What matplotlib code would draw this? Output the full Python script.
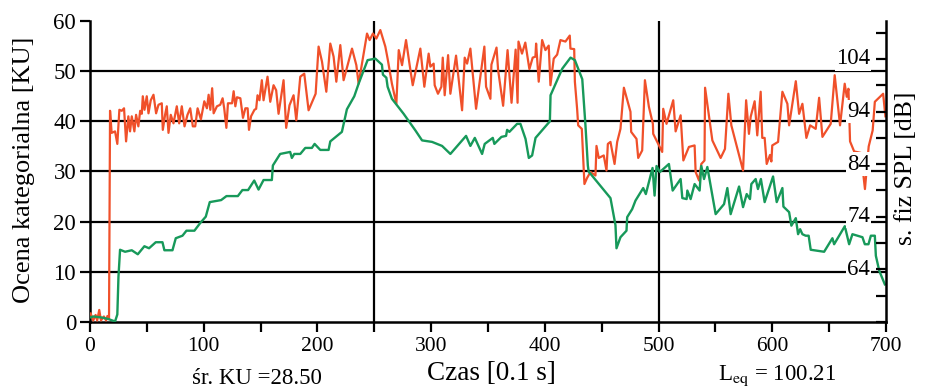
import matplotlib
matplotlib.use('Agg')

import matplotlib.pyplot as plt

plt.rcParams['font.family'] = ['Liberation Serif', 'DejaVu Serif']
plt.rcParams['mathtext.fontset'] = 'stix'

# time axis [0.1 s] and category rating [KU]
green_x = [0, 3, 10, 16, 22, 24, 25, 26.4, 30.8, 36.7, 42, 47.8, 51.9, 57.8, 63.7, 65.4,
           72.5, 75.4, 81.3, 84.8, 91.8, 96.8, 101.8, 105.3, 115.3, 120, 130, 134, 139,
           144.4, 148.2, 152.6, 159.9, 160.8, 167.2, 176, 177.5, 179.6, 184.9, 189.3,
           195.1, 197.5, 202.5, 209.8, 211.3, 221.5, 225.9, 232.4, 236.2, 244.1, 250.9,
           256.7, 257.6, 260.6, 261.7, 265.5, 275.8, 286.1, 292, 300.8, 309.6, 316.9,
           330.7, 334.5, 338.4, 344.8, 347.1, 354.2, 355.6, 361.8, 365.9, 366.8, 368.8,
           375.6, 378.5, 383, 385.9, 388.8, 391.8, 404.4, 405, 415.3, 422.6, 426.4, 432.9,
           435.7, 437.8, 438.5, 457.7, 462.1, 463, 466.5, 471.8, 472.4, 476.8, 479.7,
           486.5, 488.8, 494.7, 496.5, 498.2, 501.2, 509.1, 512.4, 519.4, 520.9, 524.7,
           525.3, 528.2, 531.7, 536.1, 537.6, 540, 542.9, 550.2, 557.6, 560.5, 563.4,
           570.8, 574.3, 577.5, 580.4, 581.6, 585.4, 587.4, 590, 593.3, 600.7, 603.9,
           608.9, 609.8, 614.8, 616.8, 620.7, 622.7, 624.5, 626.5, 629.4, 632, 633.8,
           645.6, 652.9, 654.4, 663.8, 667.6, 670.5, 679.3, 681.4, 684.6, 686.7, 690.2,
           691.1, 694.1, 699]
green_y = [0.9, 1.1, 0.9, 0.6, 0.1, 1.5, 9, 14.4, 14.0, 14.3, 13.5, 15.1, 14.7, 15.9, 15.9, 14.3,
           14.3, 16.7, 17.2, 18.2, 18.2, 19.7, 21, 23.9, 24.3, 25.1, 25.1, 26.3, 26.3,
           28.2, 26.4, 28.3, 28.3, 31.2, 33.5, 33.9, 32.7, 33.5, 33.5, 34.7,
           34.7, 35.5, 34.3, 34.3, 36, 37.9, 42.4, 45, 47.5, 52.2, 52.5,
           51.3, 49.3, 48.7, 46.9, 44.5, 41.5, 38.2, 36.2, 35.9, 35.1, 33.5,
           37.1, 35.1, 36.7, 33.5, 35.5, 36.7, 35.5, 36.9, 37.1, 38.3, 37.9,
           39.5, 39.5, 36.5, 32.7, 33.2, 36.7, 40, 45.2, 50.5, 52.7, 52.2, 48.4,
           39.2, 31.2, 30, 24.7, 19.3, 14.7, 16.9, 18.2, 20.9, 22.5, 24.2,
           26.7, 25.5, 30.7, 25.2, 31.1, 29.9, 31.5, 26.2, 28.5, 24.7, 24.5,
           26.2, 24.5, 27.5, 26.2, 31.1, 28.5, 30.9, 21.5, 23.5, 26.7, 21.5,
           27, 22.9, 25.5, 24.5, 27.5, 28.5, 26.5, 28.5, 23.9, 29, 23.9,
           26.7, 23, 21.9, 19.2, 20.7, 17.5, 18.5, 17.5, 17.2, 17.2, 14.4,
           14, 16.7, 15.5, 19.1, 15.5, 17.5, 16.9, 15.5, 15.5, 17.2, 17.2,
           13.2, 10.2, 7.5]

red_x = [0.5, 2.8, 4.9, 6.3, 8.1, 9.6, 12.2, 14.1, 15.3, 16.7, 17.6, 19, 22, 24, 25.8, 27.9,
         29.9, 31.7, 33.7, 35.2, 36.7, 39, 40.5, 42.5, 44.1, 45.5, 46.4, 47.9, 49.9, 51.4,
         53.4, 55.8, 58.1, 60.2, 63.1, 64, 66, 67.5, 69, 71, 73.4, 76.3, 78.4, 80.7, 83.1,
         85.7, 88.1, 90.4, 92.5, 94.6, 97.5, 100.5, 102.8, 104.3, 105.8, 107.4, 108.7,
         111.6, 114.5, 116.6, 118, 119.9, 121.3, 124.9, 126.3, 127.8, 129.2, 132.2, 134.5,
         136.6, 138.6, 139.8, 141.6, 144.6, 146.1, 147.3, 149, 151.1, 152.6, 156.1, 158.5,
         161.4, 163.7, 165.8, 170.2, 172.5, 175.4, 179, 181.4, 184.9, 188.4, 192.2, 198.4,
         201, 204, 207.8, 211.3, 214.2, 216.6, 220.1, 223, 230.4, 234.2, 236.2, 241.2,
         243.6, 245.9, 248.8, 251.8, 255.3, 259.7, 261.7, 265.5, 269.4, 271.5, 274.4,
         277.9, 281.1, 283.8, 290.5, 294, 297.8, 299.3, 302.2, 303.1, 306, 309, 310.2,
         311.9, 314.9, 316.9, 321.9, 327.2, 329.5, 331.6, 334.5, 339.5, 346.8, 348.3,
         352.1, 353, 357.5, 358.9, 363.3, 367.2, 370.7, 374.3, 376, 376.8, 379.9, 382.8,
         386.4, 389.3, 391.7, 392.3, 394.6, 397.6, 400.5, 403.4, 404.9, 407.8, 410.8,
         413.7, 418.1, 421.9, 422.5, 425.8, 426.4, 428.4, 429.3, 432.5, 434.8, 437.1,
         440.1, 444.5, 445.4, 447.4, 451.8, 454.2, 455.4, 457.7, 461.3, 463.6, 466.5,
         469.5, 475.3, 475.9, 480.6, 482.1, 485.6, 488, 491.5, 495, 495.3, 503.2, 504.1,
         507, 512.9, 515, 519.4, 521.8, 526.7, 531.7, 532.6, 535.6, 537.6, 540.4, 540.9,
         547.3, 554.6, 558.4, 561.4, 564, 574.3, 577, 579.5, 581, 584.5, 586.8, 589.8,
         591.2, 593.3, 595.1, 598, 599.2, 600, 605.1, 608.9, 613.3, 614.8, 620.7, 623.6,
         626.5, 630, 633.3, 638.2, 641.2, 644.1, 651.4, 654.9, 659.6, 663.7, 665.5, 667,
         668.4, 672, 678, 681.5, 684.8, 688.3, 690.2, 697.5, 699.5]
red_y = [1.7, 0.3, 1.4, 0.3, 2.4, 0.3, 1.1, 0.3, 1.2, 0.7, 42.1, 37.7, 38, 35.5, 42.3, 42.1,
         42.6, 36, 41, 38, 41, 38, 41.3, 39, 42.1, 41.5, 45, 42.3, 45, 41.6,
         44.2, 45.3, 41.6, 43.3, 43.6, 38.3, 41.3, 43, 37.7, 41.3, 39.6, 43, 39.6, 43, 39,
         41.3, 42.6, 39, 39, 42.6, 40.4, 44, 42.6, 45.3, 42.3, 46.6, 41.6,
         43, 43.3, 44.6, 42.6, 38.7, 43.6, 43.6, 46, 43, 44.8, 44.6, 40.7,
         42.6, 42.6, 38.3, 41, 42.3, 42.5, 45.2, 44.2, 48.2, 44.2, 48.9, 43.9,
         47.2, 46.2, 41.5, 48.2, 38.7, 43.2, 45.2, 40.2, 48.9, 49.5, 42.2, 45.5,
         54.9, 51.9, 45.9, 55.5, 52.9, 47.9, 55.2, 48.2, 54.5, 51.2, 47.5, 54.2,
         57.5, 56.2, 57.5, 56.5, 58.2, 54.9, 52.5, 47.5, 43.5, 54.2, 51.2,
         56.2, 51.2, 47.2, 54.5, 46.9, 53.5, 50.9, 51.5, 47.2, 45.5, 46.9, 52.7,
         45.2, 53.2, 45.5, 53.1, 42.2, 52.7, 51.5, 54.5, 42.5, 54.9, 46.9,
         44.5, 51.3, 54.7, 50.2, 43.1, 54.2, 43.7, 54.3, 43.7, 55.9, 53.5, 55.7,
         50.4, 52.7, 52.9, 55.5, 47.9, 56.2, 54.2, 55.1, 47.2, 52.5, 53.3,
         56.2, 55.9, 57.1, 54.5, 54.4, 47.9, 42.4, 39.2, 38.5, 27.5, 28.7,
         29.9, 29.2, 35.1, 32.7, 33.2, 30.2, 35.5, 35.9, 31.5, 35.9, 38.5,
         46.7, 41.9, 37.9, 36.5, 32.7, 34.2, 48.2, 42.9, 39.5, 37.5, 33.9, 42.5,
         39.5, 44.2, 38, 41.2, 32.2, 34.9, 35.2, 29.9, 28.2, 31.5, 32.2, 46.7,
         36.2, 32.7, 34.5, 45.5, 39.2, 30.2, 44.2, 37.5, 40.9, 44, 37.2, 45.9,
         36.7, 36.7, 31.5, 33.3, 32, 35.2, 35.9, 45.9, 43.5, 39.2, 48, 41.5,
         43.5, 36.7, 39.2, 38.5, 44.7, 36.9, 39.5, 49.2, 39.2, 47.5, 44.9, 46.5,
         36, 34, 33.7, 26.5, 35, 38.2, 43.9, 45.5, 41]

x_ticks = [0, 100, 200, 300, 400, 500, 600, 700]
ku_ticks = [0, 10, 20, 30, 40, 50, 60]
grid_levels = [10, 20, 30, 40, 50]
marker_times = [250, 500]
db_ticks = [54, 59, 64, 69, 74, 79, 84, 89, 94, 99, 104, 109]
db_labels = [64, 74, 84, 94, 104]

red = '#f0502a'
green = '#17995a'

fig = plt.figure(figsize=(9.33, 3.92), dpi=100)
ax = fig.add_axes([0.0965, 0.1786, 0.8531, 0.7678])

ax.hlines(grid_levels, 0, 700, color='black', lw=1.6, zorder=1)
for t in marker_times:
    ax.axvline(t, color='black', lw=1.6, zorder=1)

ax.plot(red_x, red_y, color=red, lw=1.6, zorder=3)
ax.plot(green_x, green_y, color=green, lw=1.7, zorder=3)

ax.set_xlim(0, 700)
ax.set_ylim(0, 60)
ax.set_xticks(x_ticks)
ax.set_xticks(range(0, 701, 50), minor=True)
ax.set_yticks(ku_ticks)
ax.tick_params(axis='both', which='both', direction='out', width=1.6, length=7)
ax.tick_params(axis='x', labelsize=15.5, pad=4)
ax.tick_params(axis='y', labelsize=16.5, pad=3)
ax.spines['top'].set_visible(False)
ax.spines['right'].set_visible(False)
for s in ['left', 'bottom']:
    ax.spines[s].set_linewidth(1.8)

ax2 = ax.twinx()
ax2.set_ylim(54, 111.2)
ax2.set_yticks(db_ticks)
ax2.tick_params(axis='y', direction='in', length=7, width=1.6, labelright=False)
ax2.spines['right'].set_linewidth(1.8)
for s in ['top', 'left', 'bottom']:
    ax2.spines[s].set_visible(False)
for v in db_labels:
    ax2.text(0.98, v, str(v), transform=ax2.get_yaxis_transform(), ha='right', va='center',
             fontsize=16.5, bbox=dict(facecolor='white', edgecolor='none', pad=0.8), zorder=5)

fig.text(24 / 933, 1 - 170 / 392, 'Ocena kategorialna [KU]', rotation=90,
         ha='center', va='center', fontsize=19)
fig.text(906 / 933, 1 - 168 / 392, 's. fiz SPL [dB]', rotation=90,
         ha='center', va='center', fontsize=18.5)
fig.text(491 / 933, 1 - 374 / 392, 'Czas [0.1 s]', ha='center', va='center', fontsize=19.5)
fig.text(257 / 933, 1 - 378 / 392, 'śr. KU =28.50', ha='center', va='center', fontsize=16.5)
fig.text(777 / 933, 1 - 376 / 392, r'L$_{\rm eq}$ = 100.21', ha='center', va='center', fontsize=16.5)

fig.savefig('out.png', dpi=100)
